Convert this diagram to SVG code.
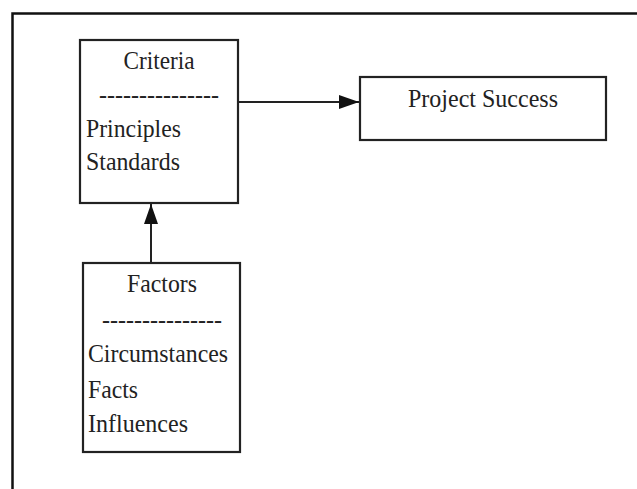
<svg xmlns="http://www.w3.org/2000/svg" width="637" height="489" viewBox="0 0 637 489">
<style>
.box{fill:#fff;stroke:#222;stroke-width:2.2}
.t{font-family:"Liberation Serif","Times New Roman",serif;font-size:26px;fill:#222}
.c{text-anchor:middle}
.edge{stroke:#222;stroke-width:2;fill:none}
</style>
<defs>
<marker id="ah" viewBox="0 0 20 14" refX="20" refY="7" markerWidth="20" markerHeight="14" markerUnits="userSpaceOnUse" orient="auto">
<path d="M0,0 L20,7 L0,14 Z" fill="#111"/>
</marker>
</defs>
<rect width="637" height="489" fill="#fff"/>
<path d="M12.5,489 V13.5 H637" fill="none" stroke="#111" stroke-width="2.5"/>
<g id="connectors">
<line class="edge" x1="239" y1="102" x2="359" y2="102" marker-end="url(#ah)"/>
<line class="edge" x1="151" y1="263" x2="151" y2="204" marker-end="url(#ah)"/>
</g>
<g id="criteria">
<rect class="box" x="80" y="40" width="158" height="163"/>
<text class="t c" x="159" y="69" textLength="71" lengthAdjust="spacingAndGlyphs">Criteria</text>
<text class="t" x="99" y="103" textLength="120" lengthAdjust="spacingAndGlyphs">---------------</text>
<text class="t" x="86" y="137" textLength="95" lengthAdjust="spacingAndGlyphs">Principles</text>
<text class="t" x="86" y="170" textLength="94" lengthAdjust="spacingAndGlyphs">Standards</text>
</g>
<g id="project-success">
<rect class="box" x="360" y="77" width="246" height="63"/>
<text class="t c" x="483" y="107" textLength="150" lengthAdjust="spacingAndGlyphs">Project Success</text>
</g>
<g id="factors">
<rect class="box" x="83" y="263" width="157" height="189"/>
<text class="t c" x="162" y="292" textLength="70" lengthAdjust="spacingAndGlyphs">Factors</text>
<text class="t" x="102" y="328" textLength="120" lengthAdjust="spacingAndGlyphs">---------------</text>
<text class="t" x="88" y="362" textLength="140" lengthAdjust="spacingAndGlyphs">Circumstances</text>
<text class="t" x="88" y="398" textLength="50" lengthAdjust="spacingAndGlyphs">Facts</text>
<text class="t" x="88" y="432" textLength="100" lengthAdjust="spacingAndGlyphs">Influences</text>
</g>
</svg>
